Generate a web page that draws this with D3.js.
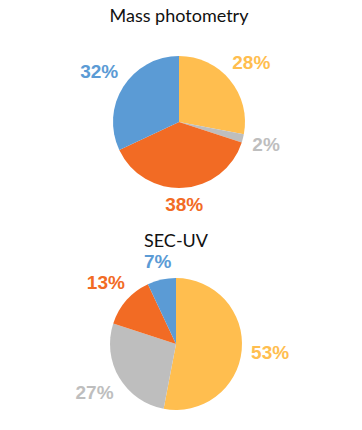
<!DOCTYPE html>
<html><head><meta charset="utf-8">
<script src="https://cdn.jsdelivr.net/npm/d3@7"></script>
<style>html,body{margin:0;padding:0;background:#fff;}</style>
</head><body>
<svg id="chart" width="362" height="430"></svg>
<script>
const categories = ["A", "B", "C", "D"];
const massPhotometry = [28, 2, 38, 32];
const secUV = [53, 27, 13, 7];
const titles = ["Mass photometry", "SEC-UV"];
const colors = ["#FFBE4F", "#BEBEBE", "#F26B24", "#5B9BD5"];

const svg = d3.select("#chart");
const color = d3.scaleOrdinal().domain(categories).range(colors);
const pie = d3.pie().sort(null).value(d => d.v);
const r = 66;
const arc = d3.arc().innerRadius(0).outerRadius(r);

const panels = [
  {title: titles[0], values: massPhotometry, cx: 179, cy: 122, ty: 22},
  {title: titles[1], values: secUV, cx: 176, cy: 344, ty: 247}
];

panels.forEach(p => {
  svg.append("text").attr("x", p.cx).attr("y", p.ty)
    .attr("text-anchor", "middle")
    .attr("font-family", "Lato, 'Open Sans', sans-serif")
    .attr("font-size", 18).attr("fill", "#111").text(p.title);
  const g = svg.append("g").attr("transform", `translate(${p.cx},${p.cy})`);
  const data = pie(categories.map((c, i) => ({c, v: p.values[i]})));
  g.selectAll("path").data(data).join("path")
    .attr("d", arc).attr("fill", d => color(d.data.c));
  g.selectAll("text").data(data).join("text")
    .attr("text-anchor", "middle")
    .attr("font-family", "'Liberation Sans', Arial, sans-serif")
    .attr("font-weight", "bold").attr("font-size", 19)
    .attr("fill", d => color(d.data.c))
    .text(d => d.data.v + "%")
    .each(function(d) {
      const w = this.getComputedTextLength();
      const h = 13;
      const a = (d.startAngle + d.endAngle) / 2;
      const s = Math.sin(a), c = Math.cos(a);
      const dist = r + 9 + Math.abs(s) * w / 2 + Math.abs(c) * h / 2;
      d3.select(this).attr("x", s * dist).attr("y", -c * dist + h / 2);
    });
});
</script>
</body></html>
